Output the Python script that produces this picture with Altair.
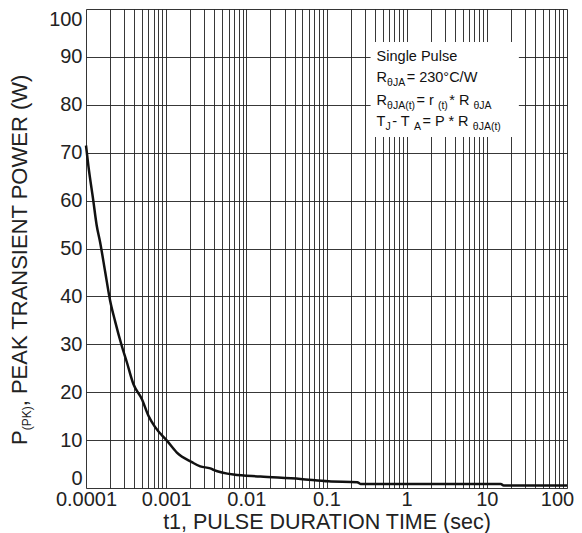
import altair as alt
import pandas as pd

# ---- curve data ----
pulse_t = [1.0e-4, 1.07e-4, 1.233e-4, 1.36e-4, 1.50e-4, 1.74e-4, 2.0e-4, 2.30e-4,
           2.79e-4, 3.24e-4, 3.90e-4, 4.97e-4, 6.01e-4, 7.29e-4, 1.02e-3, 1.36e-3,
           2.09e-3, 2.66e-3, 3.55e-3, 3.89e-3, 6.9e-3, 0.01496, 0.0473, 0.106,
           0.242, 0.266, 14.96, 16.2, 100.0]
power_w = [71.5, 67.3, 60.0, 54.8, 51.3, 45.0, 39.1, 34.9,
           29.7, 26.2, 21.7, 18.6, 15.1, 12.7, 9.9, 7.4,
           5.4, 4.5, 4.1, 3.8, 2.8, 2.4, 1.9, 1.4,
           1.2, 0.84, 0.84, 0.5, 0.5]

# ---- axis values ----
x_decades = [1e-4, 1e-3, 1e-2, 1e-1, 1, 10, 100]
x_grid = [m * d for d in x_decades[:-1] for m in range(1, 10)] + [100]
y_ticks = list(range(0, 101, 10))

x_title = "t1, PULSE DURATION TIME (sec)"
# y title segments: (text, is_subscript)
y_title_parts = [("P", 0), ("(PK)", 1), (", PEAK TRANSIENT POWER (W)", 0)]

# annotation box lines: list of (text, is_subscript)
note_lines = [
    [("Single Pulse", 0)],
    [("R", 0), ("θJA", 1), (" = 230°C/W", 0)],
    [("R", 0), ("θJA(t)", 1), (" = r", 0), ("(t)", 1), (" * R", 0), ("θJA", 1)],
    [("T", 0), ("J", 1), (" - T", 0), ("A", 1), (" = P * R", 0), ("θJA(t)", 1)],
]
# box extent in data units
box_t = [0.355, 25.1]
box_p = [73.3, 93.1]
note_anchor = (0.4217, 89.14)

FONT = "Liberation Sans"
PW, PH = 481, 479
PXD = PW / 6.0      # pixels per decade on x
PXU = PH / 100.0    # pixels per watt on y

W = {' ': 278, '=': 584, '°': 400, 'C': 722, '/': 278, 'W': 944, 'R': 722, 'θ': 556,
     'J': 500, 'A': 667, '(': 333, ')': 333, 't': 278, 'r': 333, '*': 389, 'P': 667,
     'T': 611, '-': 333, 'S': 667, 'i': 222, 'n': 556, 'g': 556, 'l': 222, 'e': 556,
     'u': 556, 's': 500, 'K': 667, ',': 278, 'E': 667, 'N': 722, 'I': 278, 'O': 778,
     'U': 722, 'L': 556, 'D': 722, 'M': 833, 'c': 500}


def text_width(s, size):
    return sum(W.get(ch, 556) for ch in s) * size / 1000.0


def shift(t0, p0, dx, dy):
    """Move a data anchor by a pixel offset, expressed in data units."""
    return t0 * 10 ** (dx / PXD), p0 - dy / PXU


# build annotation rows
NOTE_MAIN, NOTE_SUB, NOTE_SHIFT = 14.5, 10.5, 3.5
line_dy = [0, 21, 44, 65]
note_rows = []
for i, line in enumerate(note_lines):
    cur = 0.0
    for txt, sub in line:
        size = NOTE_SUB if sub else NOTE_MAIN
        t, p = shift(note_anchor[0], note_anchor[1], cur,
                     line_dy[i] + (NOTE_SHIFT if sub else 0))
        note_rows.append({"t": t, "p": p, "text": txt, "size": size})
        cur += text_width(txt, size) + (1.5 if sub else 0)
note_df = pd.DataFrame(note_rows)

# y title rows (rotated)
YT_MAIN, YT_SUB, YT_SHIFT = 22, 12, 4
yt_rows = []
cur = 0.0
for txt, sub in y_title_parts:
    size = YT_SUB if sub else YT_MAIN
    t, p = shift(1e-4, 0, -59 + (YT_SHIFT if sub else 0), -43 - cur)
    yt_rows.append({"t": t, "p": p, "text": txt, "size": size})
    cur += text_width(txt, size)
yt_df = pd.DataFrame(yt_rows)

curve_df = pd.DataFrame({"t": pulse_t, "p": power_w})
box_df = pd.DataFrame({"t1": [box_t[0]], "t2": [box_t[1]], "p1": [box_p[0]], "p2": [box_p[1]]})

xscale = alt.Scale(type="log", domain=[1e-4, 100], nice=False)
yscale = alt.Scale(domain=[0, 100], nice=False)

label_expr = ("abs(log(datum.value)/LN10 - round(log(datum.value)/LN10)) < 1e-6 ? "
              "format(datum.value, '~g') : ''")

x_axis = alt.Axis(values=x_grid, labelExpr=label_expr, title=x_title, grid=True,
                  gridColor="#222", gridOpacity=0.9, gridWidth=1, ticks=False,
                  domain=False, labelOverlap=False, labelFlush=False,
                  labelOffset={"condition": {"test": "datum.value >= 100", "value": -10},
                               "value": 0},
                  labelFont=FONT, labelFontSize=20, labelColor="#222", labelPadding=1,
                  titleFont=FONT, titleFontSize=21.5, titleFontWeight="normal",
                  titleColor="#222", titleBaseline="alphabetic", titleY=40)
y_axis = alt.Axis(values=y_ticks, title=None, grid=True, gridColor="#222",
                  gridOpacity=0.9, gridWidth=1, ticks=False, domain=False,
                  labelFlush=True, labelOverlap=False,
                  labelFont=FONT, labelFontSize=20, labelColor="#222", labelPadding=4)

curve = alt.Chart(curve_df).mark_line(color="#111", strokeWidth=2.5, interpolate="monotone").encode(
    x=alt.X("t:Q", scale=xscale, axis=x_axis),
    y=alt.Y("p:Q", scale=yscale, axis=y_axis),
)

box = alt.Chart(box_df).mark_rect(color="white", opacity=1).encode(
    x=alt.X("t1:Q", scale=xscale), x2="t2:Q",
    y=alt.Y("p1:Q", scale=yscale), y2="p2:Q",
)

notes = alt.Chart(note_df).mark_text(align="left", baseline="alphabetic", font=FONT,
                                      color="#111").encode(
    x=alt.X("t:Q", scale=xscale),
    y=alt.Y("p:Q", scale=yscale),
    text="text:N",
    size=alt.Size("size:Q", scale=None, legend=None),
)

ytitle = alt.Chart(yt_df).mark_text(align="left", baseline="alphabetic", font=FONT,
                                     color="#222", angle=270).encode(
    x=alt.X("t:Q", scale=xscale),
    y=alt.Y("p:Q", scale=yscale),
    text="text:N",
    size=alt.Size("size:Q", scale=None, legend=None),
)

chart = alt.layer(box, curve, notes, ytitle).properties(
    width=PW, height=PH,
    autosize=alt.AutoSizeParams(type="none"),
    padding={"left": 78, "top": 1, "right": 7, "bottom": 45},
).configure_view(stroke="#444", strokeWidth=1).configure(background="white")

chart.save("out.html", embed_options={"renderer": "svg", "actions": False})
